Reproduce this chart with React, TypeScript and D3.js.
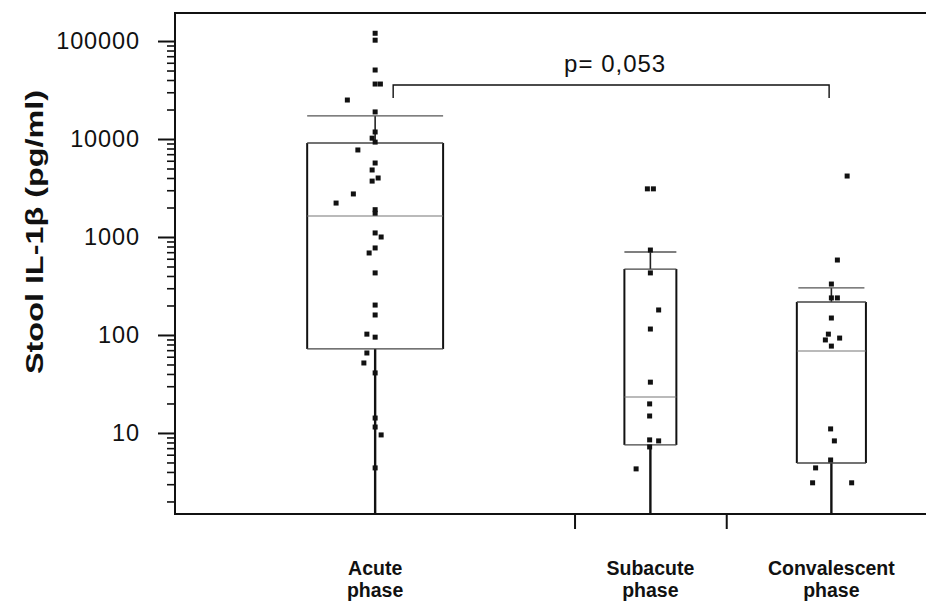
import React, { useEffect, useRef } from 'react';
import * as d3 from 'd3';

// categories on the x axis (two lines each)
const categories = [
  ['Acute', 'phase'],
  ['Subacute', 'phase'],
  ['Convalescent', 'phase'],
];

// box statistics, pg/ml: [whiskerLow, q1, median, q3, whiskerHigh]
const acuteBox = [1, 72, 1640, 9100, 17200];
const subacuteBox = [1, 7.55, 23.3, 471, 703];
const convalescentBox = [1, 4.94, 68.7, 217, 302];

// individual points: [value, horizontal jitter in x units]
const acutePoints = [
  [120000, 0], [102000, 0], [50600, 0], [36400, 0], [36400, 0.7], [25000, -3.7],
  [18900, 0], [11800, 0], [10200, -0.4], [9300, 0], [7730, -2.3], [5690, 0],
  [4830, -0.4], [4000, 0.4], [3720, -0.4], [2750, -2.9], [2220, -5.2], [1900, 0],
  [1750, 0], [1100, 0], [1000, 0.8], [773, 0], [687, -0.8], [430, 0], [202, 0],
  [160, 0], [102, -1.1], [95, 0], [65.5, -1.1], [51.8, -1.5], [41, 0], [14.2, 0],
  [11.5, 0], [9.55, 0.8], [4.4, 0],
];
const subacutePoints = [
  [3100, -0.4], [3100, 0.4], [736, 0], [430, 0], [180, 1.1], [115, 0], [33, 0],
  [19.8, -0.1], [14.9, -0.1], [8.5, -0.1], [7.2, -0.1], [8.3, 1.1], [4.3, -1.9],
];
const convalescentPoints = [
  [4190, 2.1], [582, 0.8], [331, 0], [239, 0], [239, 0.8], [149, 0], [102, -0.4],
  [93, 1.1], [89, -0.8], [77, 0], [11, -0.1], [8.3, 0.4], [5.3, -0.1], [4.4, -2.1],
  [3.1, -2.5], [3.1, 2.7],
];

const majorTicks = [10, 100, 1000, 10000, 100000];
const pLabel = 'p= 0,053';

const boxes = [acuteBox, subacuteBox, convalescentBox];
const points = [acutePoints, subacutePoints, convalescentPoints];

// layout (x units on a 0..100 scale)
const catPos = [26.65, 63.3, 87.4];
const boxHalf = [9.05, 3.46, 4.6];
const capHalf = [9.05, 3.46, 4.4];
const xAxisTicks = [53.2, 73.4];

const App = () => {
  const svgRef = useRef(null);

  useEffect(() => {
    const width = 926;
    const height = 601;
    const left = 175;
    const right = 926;
    const top = 13;
    const bottom = 514;
    const font = "Arial, 'Liberation Sans', Helvetica, sans-serif";

    const svg = d3.select(svgRef.current);
    svg.selectAll('*').remove();
    svg.attr('width', width).attr('height', height);

    const x = d3.scaleLinear().domain([0, 100]).range([left, right]);
    const y = d3
      .scaleLog()
      .domain([Math.pow(10, 0.173), Math.pow(10, 5.286)])
      .range([bottom, top]);

    svg.append('defs')
      .append('clipPath')
      .attr('id', 'plot')
      .append('rect')
      .attr('x', left)
      .attr('y', top)
      .attr('width', right - left)
      .attr('height', bottom - top);

    // minor ticks
    const minor = [];
    for (let e = 0; e < 6; e++) {
      for (let m = 2; m <= 9; m++) {
        const v = m * Math.pow(10, e);
        if (v > y.domain()[0] && v < y.domain()[1]) minor.push(v);
      }
    }
    svg.append('g')
      .attr('transform', `translate(${left},0)`)
      .call(d3.axisLeft(y).tickValues(minor).tickSize(8).tickFormat(() => ''))
      .call(g => g.select('.domain').remove())
      .call(g => g.selectAll('line').attr('stroke', '#111').attr('stroke-width', 1.6));

    // major ticks + labels
    svg.append('g')
      .attr('transform', `translate(${left},0)`)
      .call(d3.axisLeft(y).tickValues(majorTicks).tickSize(17).tickPadding(18).tickFormat(d3.format('d')))
      .call(g => g.select('.domain').remove())
      .call(g => g.selectAll('line').attr('stroke', '#111').attr('stroke-width', 2))
      .call(g => g.selectAll('text')
        .attr('font-family', font)
        .attr('font-size', 23.5)
        .attr('letter-spacing', 0.9)
        .attr('fill', '#111'));

    // frame: left axis, top line, bottom axis
    svg.append('path')
      .attr('d', `M${right},${top}H${left}V${bottom}H${right}`)
      .attr('fill', 'none')
      .attr('stroke', '#111')
      .attr('stroke-width', 2);

    // x axis ticks
    svg.append('g')
      .attr('transform', `translate(0,${bottom})`)
      .call(d3.axisBottom(x).tickValues(xAxisTicks).tickSize(15).tickFormat(() => ''))
      .call(g => g.select('.domain').remove())
      .call(g => g.selectAll('line').attr('stroke', '#111').attr('stroke-width', 2));

    // category labels
    categories.forEach((lines, i) => {
      const t = svg.append('text')
        .attr('x', x(catPos[i]))
        .attr('text-anchor', 'middle')
        .attr('font-family', font)
        .attr('font-weight', 'bold')
        .attr('font-size', 19.5)
        .attr('fill', '#111');
      lines.forEach((s, j) => {
        t.append('tspan')
          .attr('x', x(catPos[i]))
          .attr('y', 575 + j * 22)
          .text(s);
      });
    });

    // y axis title
    svg.append('text')
      .attr('transform', `translate(43,232) rotate(-90)`)
      .attr('text-anchor', 'middle')
      .attr('font-family', font)
      .attr('font-weight', 'bold')
      .attr('font-size', 24)
      .attr('textLength', 284)
      .attr('lengthAdjust', 'spacingAndGlyphs')
      .attr('fill', '#111')
      .text('Stool IL-1β (pg/ml)');

    const plot = svg.append('g').attr('clip-path', 'url(#plot)');

    boxes.forEach((b, i) => {
      const cx = x(catPos[i]);
      const hw = x(boxHalf[i]) - x(0);
      const cw = x(capHalf[i]) - x(0);
      const [lo, q1, med, q3, hi] = b;

      // lower whisker
      plot.append('line')
        .attr('x1', cx).attr('x2', cx)
        .attr('y1', y(q1)).attr('y2', y(lo))
        .attr('stroke', '#111').attr('stroke-width', 2.4);
      // upper whisker
      plot.append('line')
        .attr('x1', cx).attr('x2', cx)
        .attr('y1', y(q3)).attr('y2', y(hi))
        .attr('stroke', '#222').attr('stroke-width', 1.6);
      // cap
      plot.append('line')
        .attr('x1', cx - cw).attr('x2', cx + cw)
        .attr('y1', y(hi)).attr('y2', y(hi))
        .attr('stroke', '#555').attr('stroke-width', 1.3);

      // box sides
      [cx - hw, cx + hw].forEach(sx => {
        plot.append('line')
          .attr('x1', sx).attr('x2', sx)
          .attr('y1', y(q3)).attr('y2', y(q1))
          .attr('stroke', '#111').attr('stroke-width', 2);
      });
      // box top / bottom
      [q1, q3].forEach(v => {
        plot.append('line')
          .attr('x1', cx - hw).attr('x2', cx + hw)
          .attr('y1', y(v)).attr('y2', y(v))
          .attr('stroke', '#444').attr('stroke-width', 1.3);
      });
      // median
      plot.append('line')
        .attr('x1', cx - hw).attr('x2', cx + hw)
        .attr('y1', y(med)).attr('y2', y(med))
        .attr('stroke', '#777').attr('stroke-width', 1.1);

      // points
      plot.selectAll(null)
        .data(points[i])
        .enter()
        .append('rect')
        .attr('x', d => x(catPos[i] + d[1]) - 2.5)
        .attr('y', d => y(d[0]) - 2.5)
        .attr('width', 5)
        .attr('height', 5)
        .attr('fill', '#111');
    });

    // significance bracket between acute and convalescent
    const bx1 = x(catPos[0] + 2.4);
    const bx2 = x(catPos[2] - 0.3);
    const by = 85;
    svg.append('path')
      .attr('d', `M${bx1},${by + 13}V${by}H${bx2}V${by + 13}`)
      .attr('fill', 'none')
      .attr('stroke', '#111')
      .attr('stroke-width', 1.4);
    svg.append('text')
      .attr('x', (bx1 + bx2) / 2 + 4)
      .attr('y', 72)
      .attr('text-anchor', 'middle')
      .attr('font-family', font)
      .attr('font-size', 24)
      .attr('letter-spacing', 1)
      .attr('fill', '#111')
      .text(pLabel);
  }, []);

  return (
    <svg
      ref={svgRef}
      style={{ position: 'absolute', left: 0, top: 0, background: '#fff' }}
    />
  );
};

export default App;
